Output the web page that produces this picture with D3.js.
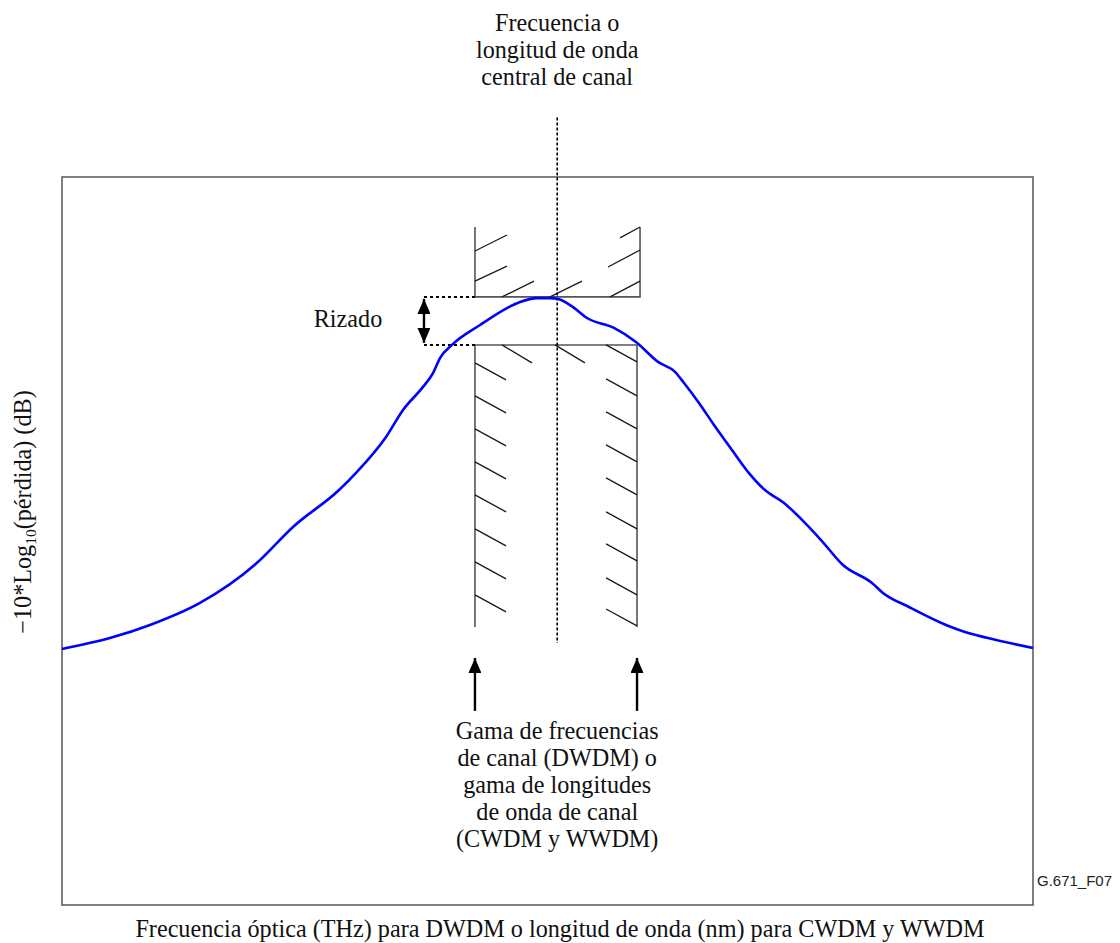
<!DOCTYPE html>
<html>
<head>
<meta charset="utf-8">
<script src="https://cdn.jsdelivr.net/npm/d3@7"></script>
<style>
  html, body { margin: 0; padding: 0; background: #fff; }
  svg { display: block; }
  .serif { font-family: "Liberation Serif", "Times New Roman", Times, serif; font-size: 24.2px; fill: #111; }
</style>
</head>
<body>
<div id="chart"></div>
<script>
// ---- data (frequency offset in arbitrary units, response in dB) ----
const freq = [-51, -45.98, -41.94, -36.79, -30.92, -27.21, -22.47, -20.62, -17.63, -15.88, -13.82, -12.79, -12.07, -10.84, -7.95, -5.17, -3.83, -2.08, -0.74, 0.10, 1.63, 3.07, 5.85, 8.11, 10.38, 12.13, 13.06, 14.60, 16.15, 18.00, 19.75, 21.40, 23.36, 25.21, 27.17, 29.43, 32.42, 33.55, 36.23, 40.04, 42.00, 44.26, 49];
const response = [-19.45, -18.99, -18.46, -17.55, -15.90, -14.42, -12.90, -12.15, -10.71, -9.60, -8.65, -8.08, -7.46, -6.92, -6.10, -5.40, -5.15, -4.99, -4.99, -5.03, -5.36, -5.81, -6.22, -6.80, -7.62, -8.03, -8.49, -9.31, -10.22, -11.25, -12.20, -12.90, -13.43, -14.13, -14.96, -15.99, -16.73, -17.14, -17.72, -18.46, -18.75, -18.99, -19.41];

// masks: [xLeft, xRight, yTop, yBottom]
const upperMask = [-8.47, 8.53, -2.06, -4.94];
const lowerMask = [-8.47, 8.22, -6.92, -18.54];

// hatch segments [x1, y1, x2, y2]
const upperHatch = [
  [-8.47, -3.05, -5.17, -2.39],
  [-8.47, -4.29, -5.17, -3.67],
  [-5.69, -4.94, -2.39, -4.29],
  [-0.74, -4.94, 2.55, -4.29],
  [6.47, -2.51, 8.53, -2.06],
  [5.23, -3.71, 8.53, -3.01],
  [5.44, -4.94, 8.53, -4.29]
];
const lowerHatch = [
  [-8.47, -7.66, -5.27, -8.36],
  [-8.47, -9.02, -5.27, -9.72],
  [-8.47, -10.38, -5.27, -11.08],
  [-8.47, -11.74, -5.27, -12.44],
  [-8.47, -13.10, -5.27, -13.80],
  [-8.47, -14.50, -5.27, -15.20],
  [-8.47, -15.86, -5.27, -16.56],
  [-8.47, -17.22, -5.27, -17.92],
  [-5.69, -6.92, -2.60, -7.66],
  [-0.23, -6.92, 2.86, -7.66],
  [5.03, -6.92, 8.22, -7.62],
  [5.03, -8.32, 8.22, -9.02],
  [5.03, -9.68, 8.22, -10.38],
  [5.03, -11.04, 8.22, -11.74],
  [5.03, -12.40, 8.22, -13.10],
  [5.03, -13.80, 8.22, -14.50],
  [5.03, -15.12, 8.22, -15.82],
  [5.03, -16.52, 8.22, -17.22],
  [5.03, -17.80, 8.22, -18.50]
];

const xDomain = [-51, 49];
const yDomain = [-30, 0];
const centerLineExtent = [2.45, -19.2];
const rippleX = -13.72;
const rangeArrowY = [-19.82, -22.0];

const titleLines = ["Frecuencia o", "longitud de onda", "central de canal"];
const rangeLines = ["Gama de frecuencias", "de canal (DWDM) o", "gama de longitudes", "de onda de canal", "(CWDM y WWDM)"];
const rippleLabel = "Rizado";
const xLabel = "Frecuencia óptica (THz) para DWDM o longitud de onda (nm) para CWDM y WWDM";
const figId = "G.671_F07";

// ---- drawing ----
const W = 1120, H = 943;
const svg = d3.select("#chart").append("svg").attr("width", W).attr("height", H);

const x = d3.scaleLinear().domain(xDomain).range([62, 1033]);
const y = d3.scaleLinear().domain(yDomain).range([905, 177]);

const defs = svg.append("defs");
defs.append("marker").attr("id", "ah").attr("viewBox", "0 0 15 13")
  .attr("refX", 15).attr("refY", 6.5).attr("markerWidth", 15).attr("markerHeight", 13)
  .attr("markerUnits", "userSpaceOnUse").attr("orient", "auto-start-reverse")
  .append("path").attr("d", "M0,0 L15,6.5 L0,13 Z").attr("fill", "#000");

// frame
svg.append("rect")
  .attr("x", x(xDomain[0])).attr("y", y(yDomain[1]))
  .attr("width", x(xDomain[1]) - x(xDomain[0]))
  .attr("height", y(yDomain[0]) - y(yDomain[1]))
  .attr("fill", "none").attr("stroke", "#555").attr("stroke-width", 1.5);

// masks
const maskG = svg.append("g").attr("stroke", "#555").attr("stroke-width", 1.6).attr("fill", "none");
maskG.append("path").attr("d", d3.line()([
  [x(upperMask[0]), y(upperMask[2])], [x(upperMask[0]), y(upperMask[3])],
  [x(upperMask[1]), y(upperMask[3])], [x(upperMask[1]), y(upperMask[2])]
]));
maskG.append("path").attr("d", d3.line()([
  [x(lowerMask[0]), y(lowerMask[3])], [x(lowerMask[0]), y(lowerMask[2])],
  [x(lowerMask[1]), y(lowerMask[2])], [x(lowerMask[1]), y(lowerMask[3])]
]));

const hatchG = svg.append("g").attr("stroke", "#1a1a1a").attr("stroke-width", 1.3);
hatchG.selectAll("line.u").data(upperHatch).join("line").attr("class", "u")
  .attr("x1", d => x(d[0])).attr("y1", d => y(d[1]))
  .attr("x2", d => x(d[2])).attr("y2", d => y(d[3]));
hatchG.selectAll("line.l").data(lowerHatch).join("line").attr("class", "l")
  .attr("x1", d => x(d[0])).attr("y1", d => y(d[1]))
  .attr("x2", d => x(d[2])).attr("y2", d => y(d[3]));

// center dotted line
svg.append("line")
  .attr("x1", x(0)).attr("x2", x(0))
  .attr("y1", y(centerLineExtent[0])).attr("y2", y(centerLineExtent[1]))
  .attr("stroke", "#000").attr("stroke-width", 1.6).attr("stroke-dasharray", "3,2");

// ripple dotted guides
[upperMask[3], lowerMask[2]].forEach(v => {
  svg.append("line")
    .attr("x1", x(rippleX)).attr("x2", x(upperMask[0]))
    .attr("y1", y(v)).attr("y2", y(v))
    .attr("stroke", "#000").attr("stroke-width", 2).attr("stroke-dasharray", "3,3");
});
// ripple double arrow
svg.append("line")
  .attr("x1", x(rippleX)).attr("x2", x(rippleX))
  .attr("y1", y(upperMask[3]) + 2).attr("y2", y(lowerMask[2]) - 2)
  .attr("stroke", "#000").attr("stroke-width", 2.4)
  .attr("marker-start", "url(#ah)").attr("marker-end", "url(#ah)");

// curve
svg.append("path")
  .datum(freq.map((f, i) => [f, response[i]]))
  .attr("fill", "none").attr("stroke", "#0000ff").attr("stroke-width", 2.6)
  .attr("stroke-linejoin", "round")
  .attr("d", d3.line().x(d => x(d[0])).y(d => y(d[1])).curve(d3.curveMonotoneX));

// range arrows
[lowerMask[0], lowerMask[1]].forEach(v => {
  svg.append("line")
    .attr("x1", x(v)).attr("x2", x(v))
    .attr("y1", y(rangeArrowY[1])).attr("y2", y(rangeArrowY[0]))
    .attr("stroke", "#000").attr("stroke-width", 2.4)
    .attr("marker-end", "url(#ah)");
});

// texts
const title = svg.append("text").attr("class", "serif").attr("text-anchor", "middle");
titleLines.forEach((t, i) => title.append("tspan").attr("x", x(0)).attr("y", 31 + i * 27.2).text(t));

const rng = svg.append("text").attr("class", "serif").attr("text-anchor", "middle");
rangeLines.forEach((t, i) => rng.append("tspan").attr("x", x(0)).attr("y", 738.5 + i * 27).text(t));

svg.append("text").attr("class", "serif").attr("text-anchor", "middle")
  .attr("x", 348).attr("y", 327).text(rippleLabel);

svg.append("text").attr("class", "serif").attr("text-anchor", "middle")
  .attr("x", 560).attr("y", 937).text(xLabel);

const yl = svg.append("text").attr("class", "serif").attr("text-anchor", "middle")
  .attr("transform", "translate(31,512) rotate(-90)");
yl.append("tspan").text("−10*Log");
yl.append("tspan").attr("font-size", "15.5px").attr("dy", 5).text("10");
yl.append("tspan").attr("dy", -5).text("(pérdida) (dB)");

svg.append("text").attr("x", 1037).attr("y", 886)
  .attr("font-family", "Liberation Sans, Arial, sans-serif").attr("font-size", "15px")
  .attr("fill", "#222").text(figId);
</script>
</body>
</html>
